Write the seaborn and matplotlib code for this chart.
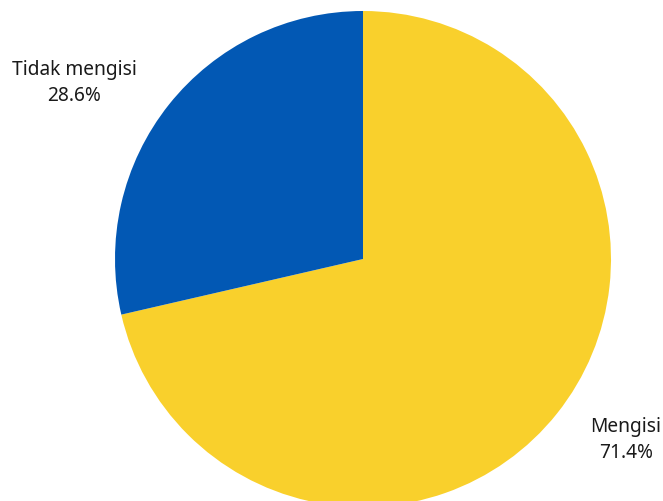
import matplotlib
matplotlib.use("Agg")
import matplotlib.pyplot as plt
import seaborn as sns
import numpy as np

categories = ["Mengisi", "Tidak mengisi"]
values = [71.4, 28.6]
colors = ["#F9D02C", "#0258B4"]

sns.set_theme(style="white")
plt.rcParams['font.family'] = ['Noto Sans', 'DejaVu Sans']

fig = plt.figure(figsize=(6.63, 5.02), dpi=100)
ax = fig.add_axes([0, 0, 1, 1])
R = 248.0

wedges, texts = ax.pie(values, colors=colors, startangle=90, counterclock=False,
                       radius=1.0, labels=[f"{c}\n{v:.1f}%" for c, v in zip(categories, values)],
                       wedgeprops=dict(linewidth=0), textprops=dict(fontsize=13.8, color="#1a1a1a",
                                                                     ha='center', va='center',
                                                                     linespacing=1.45))
ax.set_xlim(-363 / R, 300 / R)
ax.set_ylim(-242 / R, 260 / R)
ax.set_aspect('auto')
ax.axis('off')
label_pos = [((626 - 363) / R, (260 - 440) / R), ((74 - 363) / R, (260 - 83) / R)]
for t, p in zip(texts, label_pos):
    t.set_position(p)
    t.set_ha('center')
    t.set_va('center')

fig.savefig("out.png", dpi=100)
